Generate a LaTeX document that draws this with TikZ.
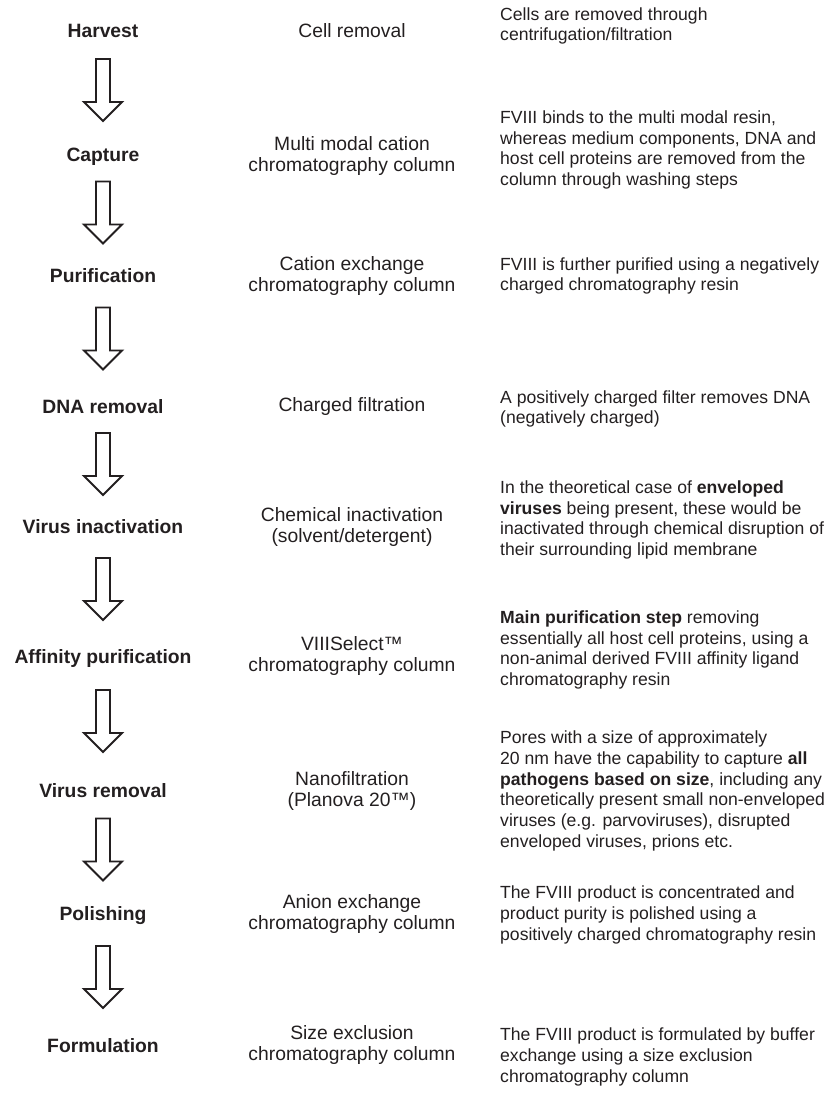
\documentclass[tikz,border=0pt]{standalone}
\usepackage{fontspec}
\setmainfont{Liberation Sans}
\usetikzlibrary{calc}

\definecolor{ink}{RGB}{35,31,32}

\tikzset{
	steplabel/.style={font=\fontsize{19.3pt}{20.8pt}\selectfont\bfseries, text=ink, inner sep=0pt, text height=14pt, text depth=4pt},
	methodtext/.style={font=\fontsize{19.3pt}{20.8pt}\selectfont, text=ink, inner sep=0pt, align=center},
	desctext/.style={font=\fontsize{17.6pt}{20.8pt}\selectfont, text=ink, inner sep=0pt, align=left, anchor=west},
	arrowline/.style={draw=ink, line width=1.9pt, line join=miter, fill=white}
}

% hollow block arrow halfway between two step labels
\newcommand\flowarrow[2]{%
	\draw[arrowline] let \p1=($(#1)!0.5!(#2)+(0,35pt)$), \p2=($(#1)!0.5!(#2)+(0,-27pt)$) in
	(\x1-7pt,\y1) -- (\x1+7pt,\y1) -- (\x1+7pt,\y2+19pt) -- (\x1+19pt,\y2+19pt)
	-- (\x1,\y2) -- (\x1-19pt,\y2+19pt) -- (\x1-7pt,\y2+19pt) -- cycle;}

\begin{document}
\begin{tikzpicture}[x=1pt,y=-1pt]
	\useasboundingbox (0,0) rectangle (833,1100);

	%steps
	\node[steplabel] (harvest) at (103,32) {Harvest};
	\node[steplabel] (capture) at (103,156) {Capture};
	\node[steplabel] (purification) at (103,277) {Purification};
	\node[steplabel] (dnaremoval) at (103,408) {DNA removal};
	\node[steplabel] (virusinact) at (103,528) {Virus inactivation};
	\node[steplabel] (affinity) at (103,658) {Affinity purification};
	\node[steplabel] (virusremoval) at (103,792) {Virus removal};
	\node[steplabel] (polishing) at (103,915) {Polishing};
	\node[steplabel] (formulation) at (103,1047) {Formulation};

	%methods
	\node[methodtext] (mharvest) at (352,31) {Cell removal};
	\node[methodtext] (mcapture) at (352,156) {Multi modal cation\\chromatography column};
	\node[methodtext] (mpurification) at (352,276) {Cation exchange\\chromatography column};
	\node[methodtext] (mdnaremoval) at (352,407) {Charged filtration};
	\node[methodtext] (mvirusinact) at (352,527) {Chemical inactivation\\(solvent/detergent)};
	\node[methodtext] (maffinity) at (352,656) {VIIISelect™\\chromatography column};
	\node[methodtext] (mvirusremoval) at (352,791) {Nanofiltration\\(Planova 20™)};
	\node[methodtext] (mpolishing) at (352,914) {Anion exchange\\chromatography column};
	\node[methodtext] (mformulation) at (352,1045) {Size exclusion\\chromatography column};

	%descriptions
	\node[desctext] (dharvest) at (500,26) {Cells are removed through\\centrifugation/filtration};
	\node[desctext] (dcapture) at (500,150) {FVIII binds to the multi modal resin,\\whereas medium components, DNA and\\host cell proteins are removed from the\\column through washing steps};
	\node[desctext] (dpurification) at (500,276) {FVIII is further purified using a negatively\\charged chromatography resin};
	\node[desctext] (ddnaremoval) at (500,409) {A positively charged filter removes DNA\\(negatively charged)};
	\node[desctext] (dvirusinact) at (500,520) {In the theoretical case of \textbf{enveloped}\\\textbf{viruses} being present, these would be\\inactivated through chemical disruption of\\their surrounding lipid membrane};
	\node[desctext] (daffinity) at (500,650) {\textbf{Main purification step} removing\\essentially all host cell proteins, using a\\non-animal derived FVIII affinity ligand\\chromatography resin};
	\node[desctext] (dvirusremoval) at (500,791) {Pores with a size of approximately\\20 nm have the capability to capture \textbf{all}\\\textbf{pathogens based on size}, including any\\theoretically present small non-enveloped\\viruses (e.g. parvoviruses), disrupted\\enveloped viruses, prions etc.};
	\node[desctext] (dpolishing) at (500,915) {The FVIII product is concentrated and\\product purity is polished using a\\positively charged chromatography resin};
	\node[desctext] (dformulation) at (500,1057) {The FVIII product is formulated by buffer\\exchange using a size exclusion\\chromatography column};

	%arrows
	\flowarrow{harvest}{capture}
	\flowarrow{capture}{purification}
	\flowarrow{purification}{dnaremoval}
	\flowarrow{dnaremoval}{virusinact}
	\flowarrow{virusinact}{affinity}
	\flowarrow{affinity}{virusremoval}
	\flowarrow{virusremoval}{polishing}
	\flowarrow{polishing}{formulation}
\end{tikzpicture}
\end{document}
